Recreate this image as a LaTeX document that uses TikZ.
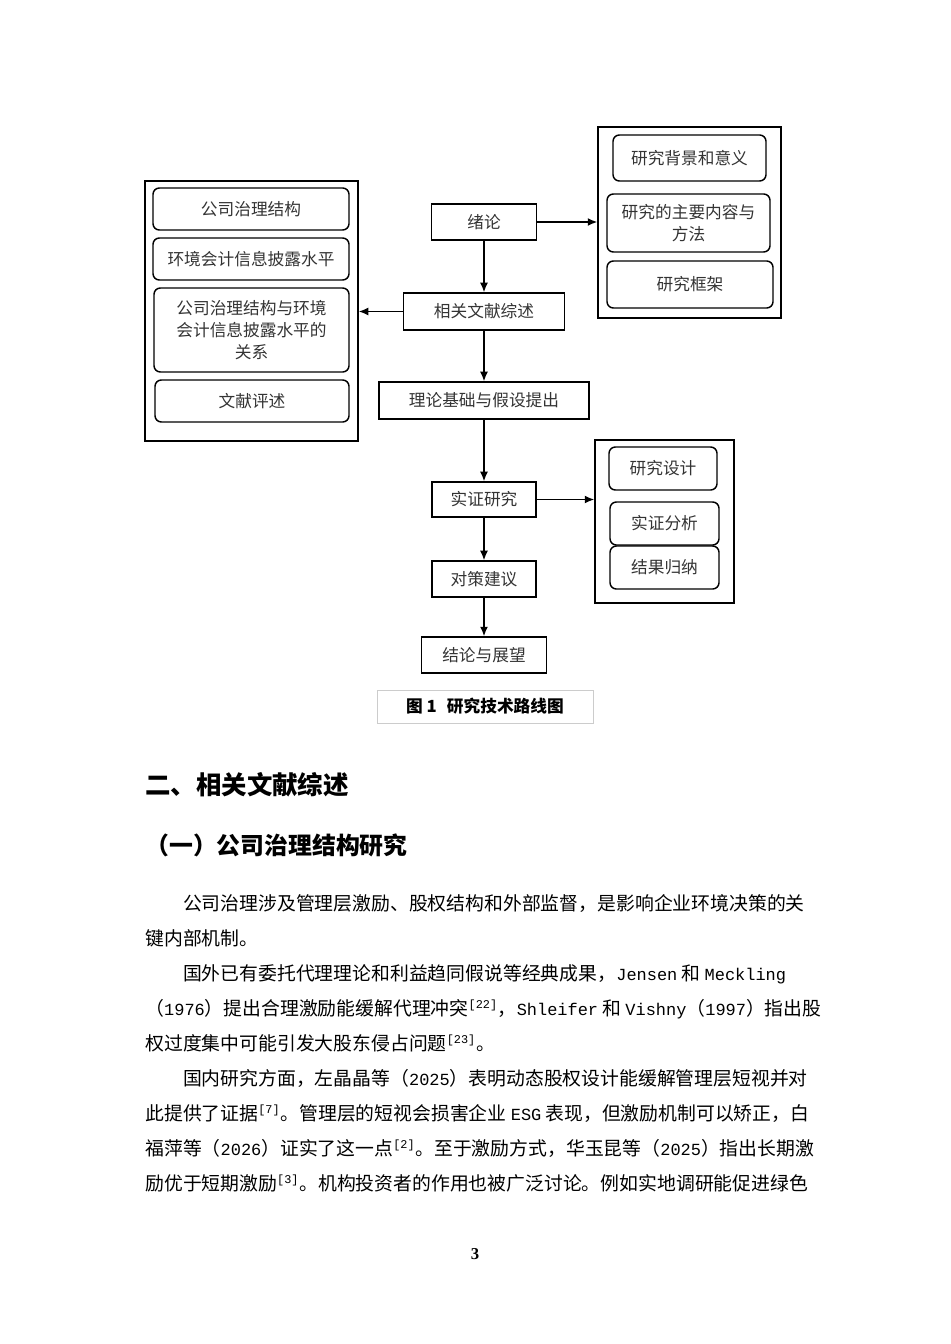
\documentclass[tikz,border=0pt]{standalone}
\usepackage{fontspec}
\setmainfont{Noto Sans CJK SC}
\newfontfamily\pagenumfont{Liberation Serif}
\newfontfamily\halfmono{Liberation Mono}[Scale=0.9]
\newcommand\hw[1]{{\halfmono #1}}
\usetikzlibrary{arrows.meta}
\newlength\pxu
\setlength\pxu{0.22105mm}

\begin{document}
\begin{tikzpicture}[x=0.22105mm, y=-0.22105mm,
    boxwh/.style 2 args={minimum width={#1*\pxu}, minimum height={#2*\pxu}},
    flowbox/.style={draw, line width=0.9pt, inner sep=0pt, align=center,
        font=\fontsize{10.5}{13.8}\selectfont, text=black!80},
    itembox/.style={flowbox, rounded corners=4pt},
    groupbox/.style={draw, line width=0.9pt, inner sep=0pt},
    flow/.style={-{Latex[length=6pt, width=5pt]}, line width=0.9pt},
    bodyline/.style={anchor=base west, inner sep=0pt, font=\fontsize{11.85}{22}\selectfont}]
    \useasboundingbox (0,0) rectangle (950,1344);

    % main line
    \node[flowbox, boxwh={105}{36}] (intro)  at (484,222)   {绪论};
    \node[flowbox, boxwh={161}{37}] (review) at (484,311.5) {相关文献综述};
    \node[flowbox, boxwh={210}{37}] (theory) at (484,400.5) {理论基础与假设提出};
    \node[flowbox, boxwh={104}{35}] (empir)  at (484,499.5) {实证研究};
    \node[flowbox, boxwh={104}{36}] (advice) at (484,579)   {对策建议};
    \node[flowbox, boxwh={125}{36}] (concl)  at (484,655)   {结论与展望};

    % right top group
    \node[groupbox, boxwh={183}{191}] (introgrp) at (689.5,222.5) {};
    \node[itembox, boxwh={153}{46}] (bg)      at (689.5,158)  {研究背景和意义};
    \node[itembox, boxwh={163}{58}] (content) at (688.5,223)  {研究的主要内容与\\方法};
    \node[itembox, boxwh={166}{47}] (frame)   at (690,284.5)  {研究框架};

    % left group
    \node[groupbox, boxwh={213}{260}] (reviewgrp) at (251.5,311) {};
    \node[itembox, boxwh={196}{42}] (gov) at (251,209)   {公司治理结构};
    \node[itembox, boxwh={196}{42}] (env) at (251,259)   {环境会计信息披露水平};
    \node[itembox, boxwh={195}{84}] (rel) at (251.5,330) {公司治理结构与环境\\会计信息披露水平的\\关系};
    \node[itembox, boxwh={194}{42}] (lit) at (252,401)   {文献评述};

    % right bottom group
    \node[groupbox, boxwh={139}{163}] (empirgrp) at (664.5,521.5) {};
    \node[itembox, boxwh={108}{43}] (design)   at (663,468.5)   {研究设计};
    \node[itembox, boxwh={109}{43}] (analysis) at (664.5,523.5) {实证分析};
    \node[itembox, boxwh={109}{43}] (result)   at (664.5,567.5) {结果归纳};

    \draw[flow] (intro) -- (review);
    \draw[flow] (review) -- (theory);
    \draw[flow] (theory) -- (empir);
    \draw[flow] (empir) -- (advice);
    \draw[flow] (advice) -- (concl);
    \draw[flow] (intro.east) -- (intro.east -| introgrp.west);
    \draw[flow] (review.west) -- (review.west -| reviewgrp.east);
    \draw[flow] (empir.east) -- (empir.east -| empirgrp.west);

    % caption
    \node[draw=black!20, line width=0.6pt, boxwh={216}{33},
        font=\bfseries\fontsize{10.5}{12}\selectfont] (caption) at (485,706.5)
        {图 1\hspace{0.6em}研究技术路线图};

    % text of the page
    \node[anchor=base west, inner sep=0pt, font=\bfseries\fontsize{16}{20}\selectfont]
        (sec) at (145,794) {二、相关文献综述};
    \node[anchor=base west, inner sep=0pt, font=\bfseries\fontsize{15}{20}\selectfont]
        (subsec) at (145,854) {（一）公司治理结构研究};
    \node[bodyline] (line1) at (145,910)  {\hspace*{2em}公司治理涉及管理层激励、股权结构和外部监督，是影响企业环境决策的关};
    \node[bodyline] (line2) at (145,945)  {键内部机制。};
    \node[bodyline] (line3) at (145,980)  {\hspace*{2em}国外已有委托代理理论和利益趋同假说等经典成果，\hw{Jensen} 和 \hw{Meckling}};
    \node[bodyline] (line4) at (145,1015) {（\hw{1976}）提出合理激励能缓解代理冲突\textsuperscript{\hw{[22]}}，\hw{Shleifer} 和 \hw{Vishny}（\hw{1997}）指出股};
    \node[bodyline] (line5) at (145,1050) {权过度集中可能引发大股东侵占问题\textsuperscript{\hw{[23]}}。};
    \node[bodyline] (line6) at (145,1085) {\hspace*{2em}国内研究方面，左晶晶等（\hw{2025}）表明动态股权设计能缓解管理层短视并对};
    \node[bodyline] (line7) at (145,1120) {此提供了证据\textsuperscript{\hw{[7]}}。管理层的短视会损害企业 \hw{ESG} 表现，但激励机制可以矫正，白};
    \node[bodyline] (line8) at (145,1155) {福萍等（\hw{2026}）证实了这一点\textsuperscript{\hw{[2]}}。至于激励方式，华玉昆等（\hw{2025}）指出长期激};
    \node[bodyline] (line9) at (145,1190) {励优于短期激励\textsuperscript{\hw{[3]}}。机构投资者的作用也被广泛讨论。例如实地调研能促进绿色};
    \node[font=\pagenumfont\bfseries\fontsize{10.5}{12}\selectfont] (pagenum) at (475,1254) {3};
\end{tikzpicture}
\end{document}
